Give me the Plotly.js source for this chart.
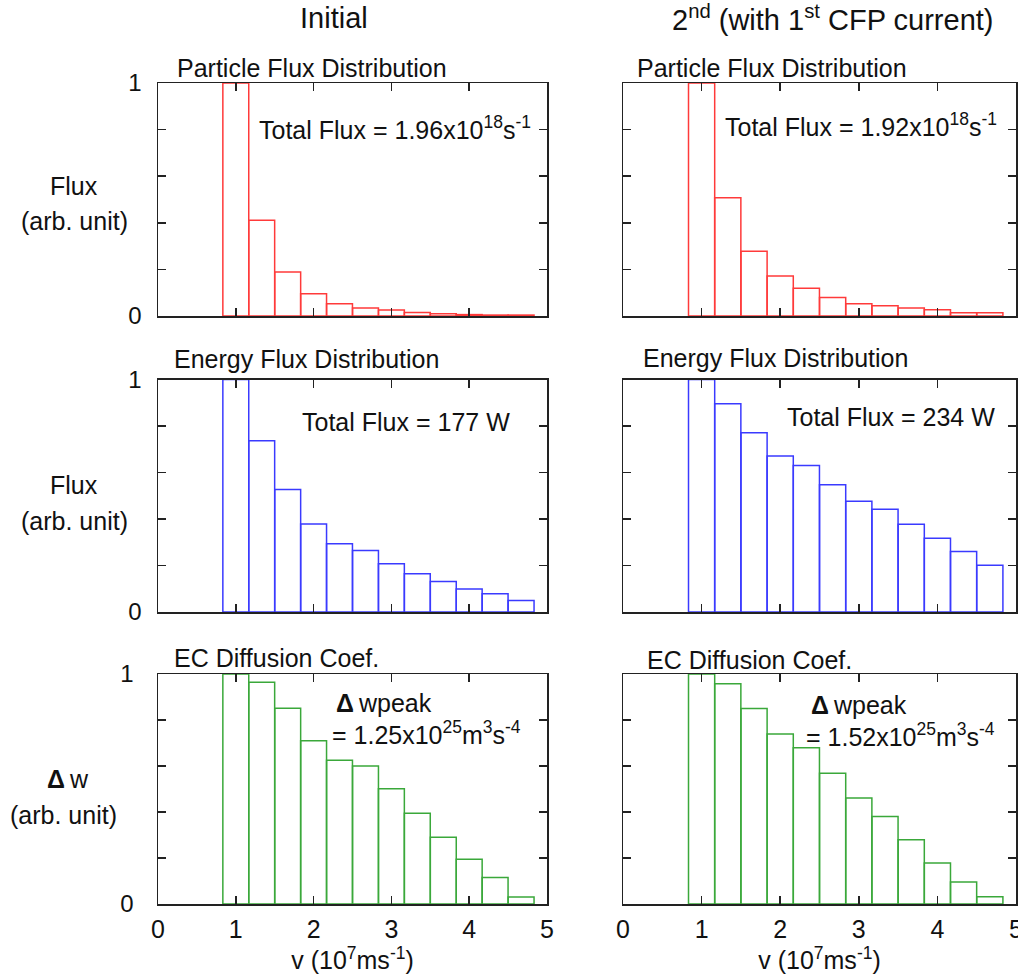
<!DOCTYPE html>
<html>
<head>
<meta charset="utf-8">
<script src="https://cdn.plot.ly/plotly-3.0.1.min.js"></script>
<style>
html,body{margin:0;padding:0;background:#fff;}
#chart{width:1018px;height:979px;}
</style>
</head>
<body>
<div id="chart"></div>
<script>
// Bin centres (v, 1e7 m/s) of the 12 velocity bins
var binCenters = [1.0, 1.333, 1.667, 2.0, 2.333, 2.667, 3.0, 3.333, 3.667, 4.0, 4.333, 4.667];
var binWidth = 0.333;

// Particle flux distribution (normalised)
var particleInitial = [1.0, 0.411, 0.189, 0.096, 0.053, 0.034, 0.026, 0.015, 0.010, 0.006, 0.004, 0.004];
var particleSecond  = [1.0, 0.508, 0.278, 0.172, 0.119, 0.079, 0.053, 0.044, 0.034, 0.027, 0.014, 0.014];

// Energy flux distribution (normalised)
var energyInitial = [1.0, 0.737, 0.527, 0.379, 0.294, 0.264, 0.208, 0.164, 0.131, 0.099, 0.079, 0.049];
var energySecond  = [1.0, 0.896, 0.771, 0.671, 0.630, 0.547, 0.476, 0.442, 0.377, 0.317, 0.260, 0.201];

// EC diffusion coefficient (normalised)
var diffInitial = [1.0, 0.964, 0.851, 0.710, 0.625, 0.600, 0.501, 0.395, 0.290, 0.195, 0.115, 0.030];
var diffSecond  = [1.0, 0.958, 0.850, 0.739, 0.679, 0.569, 0.461, 0.380, 0.279, 0.178, 0.096, 0.031];

var xTickVals = [0, 1, 2, 3, 4, 5];
var xTickText = ['0', '1', '2', '3', '4', '5'];
var yTickVals = [0, 0.2, 0.4, 0.6, 0.8, 1];
var yTickText = ['0', '', '', '', '', '1'];

var columnTitles = ['Initial', '2<sup>nd</sup> (with 1<sup>st</sup> CFP current)'];
var panelTitles = ['Particle Flux Distribution', 'Energy Flux Distribution', 'EC Diffusion Coef.'];
var totalParticle = ['Total Flux = 1.96x10<sup>18</sup>s<sup>-1</sup>', 'Total Flux = 1.92x10<sup>18</sup>s<sup>-1</sup>'];
var totalEnergy = ['Total Flux = 177 W', 'Total Flux = 234 W'];
var peakLabel = ['= 1.25x10<sup>25</sup>m<sup>3</sup>s<sup>-4</sup>', '= 1.52x10<sup>25</sup>m<sup>3</sup>s<sup>-4</sup>'];

var W = 1018, H = 979;
function PX(p){ return p / W; }
function PY(p){ return 1 - p / H; }

var FONT = 'Liberation Sans, Arial, sans-serif';
var colors = ['#ff3a3a', '#3a3aff', '#3aa83a'];
var series = [[particleInitial, particleSecond], [energyInitial, energySecond], [diffInitial, diffSecond]];

var colDom = [[PX(158), PX(547)], [PX(623), PX(1016)]];
var rowDom = [[PY(316), PY(83)], [PY(612), PY(379.5)], [PY(904), PY(674)]];

var data = [];
var layout = {
  width: W, height: H,
  margin: {l: 0, r: 0, t: 0, b: 0},
  paper_bgcolor: '#fff', plot_bgcolor: '#fff',
  showlegend: false,
  font: {family: FONT, size: 25, color: '#111'},
  annotations: []
};

for (var r = 0; r < 3; r++) {
  for (var c = 0; c < 2; c++) {
    var i = r * 2 + c + 1;
    var xs = i === 1 ? 'x' : 'x' + i;
    var ys = i === 1 ? 'y' : 'y' + i;
    data.push({
      type: 'bar', x: binCenters, y: series[r][c], width: binWidth,
      xaxis: xs, yaxis: ys,
      marker: {color: 'rgba(255,255,255,0)', line: {color: colors[r], width: 1.5}},
      hoverinfo: 'skip'
    });
    var xa = {
      domain: colDom[c], anchor: ys, range: [0, 5],
      tickvals: xTickVals, ticktext: xTickText,
      showticklabels: r === 2,
      ticks: 'inside', ticklen: 8, tickwidth: 1.5, tickcolor: '#222',
      mirror: 'ticks', showline: true, linecolor: '#222', linewidth: 1.5,
      showgrid: false, zeroline: false, fixedrange: true,
      tickfont: {family: FONT, size: 25, color: '#111'},
      ticklabelstandoff: 2,
      ticklabeloverflow: 'allow'
    };
    if (r === 2) {
      xa.title = {text: 'v (10<sup>7</sup>ms<sup>-1</sup>)', font: {family: FONT, size: 25, color: '#111'}, standoff: 0};
    }
    var ya = {
      domain: rowDom[r], anchor: xs, range: [0, 1],
      tickvals: yTickVals, ticktext: yTickText,
      showticklabels: c === 0,
      ticks: 'inside', ticklen: 8, tickwidth: 1.5, tickcolor: '#222',
      mirror: 'ticks', showline: true, linecolor: '#222', linewidth: 1.5,
      showgrid: false, zeroline: false, fixedrange: true,
      tickfont: {family: FONT, size: 24, color: '#111'},
      ticklabelstandoff: r === 2 ? 18 : 10
    };
    layout['xaxis' + (i === 1 ? '' : i)] = xa;
    layout['yaxis' + (i === 1 ? '' : i)] = ya;
  }
}

function ann(text, x, y, xanchor, size) {
  layout.annotations.push({
    text: text, xref: 'paper', yref: 'paper', x: PX(x), y: PY(y),
    xanchor: xanchor, yanchor: 'middle', showarrow: false,
    font: {family: FONT, size: size || 25, color: '#111'}
  });
}

// column titles
ann(columnTitles[0], 334, 18, 'center', 29);
ann(columnTitles[1], 832, 18, 'center', 29);

// panel titles
ann(panelTitles[0], 175, 68, 'left');
ann(panelTitles[0], 635, 68, 'left');
ann(panelTitles[1], 172, 359, 'left');
ann(panelTitles[1], 641, 358, 'left');
ann(panelTitles[2], 172, 658, 'left');
ann(panelTitles[2], 645, 660, 'left');

// totals
ann(totalParticle[0], 257, 128, 'left');
ann(totalParticle[1], 723, 125, 'left');
ann(totalEnergy[0], 300, 422, 'left');
ann(totalEnergy[1], 785, 417, 'left');

// peak diffusion
ann('<b>Δ</b>\u2009wpeak', 334, 703, 'left');
ann(peakLabel[0], 330, 733, 'left');
ann('<b>Δ</b>\u2009wpeak', 809, 705, 'left');
ann(peakLabel[1], 804, 735, 'left');

// y labels
ann('Flux', 74, 186, 'center');
ann('(arb. unit)', 74, 221, 'center');
ann('Flux', 74, 485, 'center');
ann('(arb. unit)', 74, 521, 'center');
ann('<b>Δ</b>\u2009w', 68, 779, 'center');
ann('(arb. unit)', 64, 815, 'center');

Plotly.newPlot('chart', data, layout, {displayModeBar: false, staticPlot: true});
</script>
</body>
</html>
